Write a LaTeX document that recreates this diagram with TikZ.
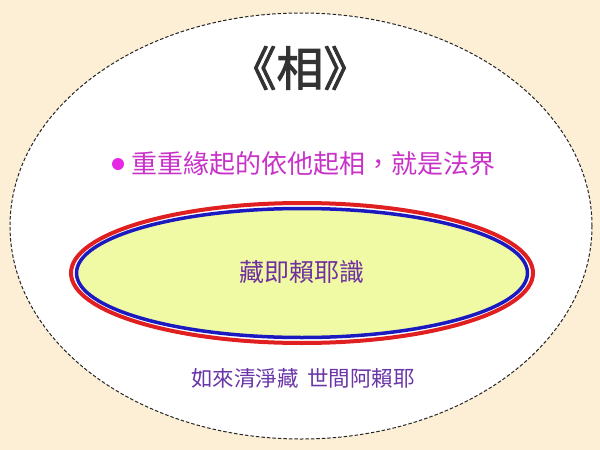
\documentclass[tikz,border=0pt]{standalone}
\usepackage{fontspec}
\newfontfamily\cjk{Noto Sans CJK TC}
\newfontfamily\cjkb{Noto Sans CJK TC}[FakeBold=2]
\definecolor{bgc}{HTML}{FCEFD6}
\definecolor{magt}{HTML}{C832C8}
\definecolor{magb}{HTML}{E628E6}
\definecolor{purp}{HTML}{7030A0}
\definecolor{purb}{HTML}{6A35A8}
\definecolor{yfill}{HTML}{F0FAA5}
\definecolor{redl}{HTML}{E02020}
\definecolor{bluel}{HTML}{1A1AC0}
\tikzset{
  outerell/.style={draw=black!85, line width=1pt, dash pattern=on 3.5pt off 2pt, fill=white},
  txt/.style={inner sep=0pt, font=\cjk},
}
\begin{document}
\begin{tikzpicture}[x=1pt,y=-1pt]
\fill[bgc] (0,0) rectangle (600,450);
\useasboundingbox (0,0) rectangle (600,450);
\draw[outerell] (301,226) ellipse [x radius=291, y radius=213];
\node[txt, font=\cjkb\fontsize{47}{50}\selectfont, text=black!80] (title) at (300,68) {《相》};
\fill[magb] (118,164) circle (6);
\node[txt, anchor=west, font=\cjk\fontsize{26}{30}\selectfont, text=magt] (line1) at (131,164) {重重緣起的依他起相，就是法界};
\draw[redl, line width=4pt, fill=white] (302,273) ellipse [x radius=231, y radius=70];
\draw[bluel, line width=3.5pt, fill=yfill] (302,273) ellipse [x radius=225.5, y radius=64.5];
\node[txt, font=\cjk\fontsize{25}{29}\selectfont, text=purp] (store) at (302,272) {藏即賴耶識};
\node[txt, font=\cjk\fontsize{21.5}{25}\selectfont, text=purb] (bottom) at (303,378) {如來清淨藏\hspace{0.4em}世間阿賴耶};
\end{tikzpicture}
\end{document}
